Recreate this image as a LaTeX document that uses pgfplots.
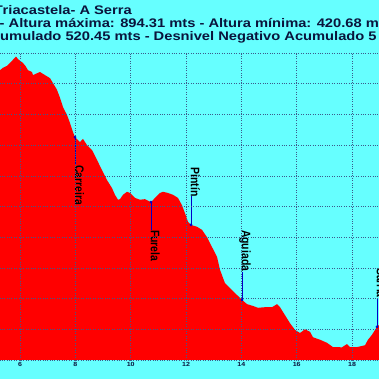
\documentclass[border=0pt]{standalone}
\usepackage{pgfplots}
\pgfplotsset{compat=1.18}
\usepackage{fontspec}
\setmainfont{Liberation Sans}
\definecolor{bgcyan}{RGB}{102,255,255}
\definecolor{navy}{RGB}{10,20,60}
\definecolor{gridc}{RGB}{60,90,140}
\definecolor{mk}{RGB}{0,0,200}
\begin{document}
\begin{tikzpicture}[x=1bp,y=1bp]
\useasboundingbox (0,0) rectangle (379,379);
\clip (0,0) rectangle (379,379);
\fill[bgcyan] (0,0) rectangle (379,379);
\begin{axis}[
  at={(-7.67bp,19bp)}, anchor=south west, scale only axis,
  width=401.2bp, height=307bp,
  xmin=5, xmax=19.5, ymin=400, ymax=900,
  axis line style={draw=none},
  major tick length=0pt,
  xtick={6,8,...,18}, xticklabels={6,8,10,12,14,16,18},
  ytick={400,450,...,900},
  grid=major,
  grid style={dotted, gridc, line width=0.5bp},
  axis on top,
  xticklabel style={font=\bfseries\fontsize{6}{7}\selectfont, navy, inner sep=0pt, yshift=-1.7bp, xscale=1.18},
  yticklabel style={font=\bfseries\fontsize{6}{7}\selectfont, navy},
  clip=true,
]
\addplot[fill=red, draw=none] coordinates {
(5.0,855) (5.277,872) (5.386,876) (5.530,879) (5.639,884) (5.747,889) (5.855,894.3) (5.928,890) (6.072,885) (6.181,880) (6.289,872) (6.434,869) (6.470,864) (6.614,867) (6.723,869) (6.831,866) (6.976,862) (7.084,859) (7.193,851) (7.337,840) (7.446,827) (7.554,812) (7.699,799) (7.807,786) (7.915,771) (7.988,763) (8.096,758) (8.168,755) (8.277,760) (8.421,750) (8.602,742) (8.783,726) (8.964,709) (9.144,693) (9.325,680) (9.433,669) (9.542,661) (9.614,662) (9.722,669) (9.867,674) (9.975,672) (10.156,664) (10.337,661) (10.518,662) (10.734,657) (10.879,664) (11.060,672) (11.168,674) (11.349,672) (11.530,669) (11.710,664) (11.855,652) (11.963,639) (12.072,625) (12.180,620) (12.397,617) (12.578,612) (12.758,600) (12.939,584) (13.120,568) (13.228,547) (13.409,525) (13.590,517) (13.770,509) (14.023,498) (14.204,491) (14.421,488) (14.601,485) (14.854,486) (15.107,486) (15.290,491) (15.397,486) (15.577,473) (15.758,460) (15.939,449) (16.119,444) (16.300,450) (16.481,446) (16.590,437) (16.843,433) (17.095,428) (17.312,421) (17.637,420.7) (17.818,426) (17.926,421) (18.179,421) (18.468,424) (18.577,433) (18.721,441) (18.902,454) (18.975,457) (19.2,470) (19.5,480)
} \closedcycle;
\addplot[only marks, mark=*, mark size=1.2bp, mk] coordinates {
(7.988,763) (10.734,657) (12.180,620) (14.023,498) (18.902,454)
};
\draw[mk, line width=0.5bp] (axis cs:7.988,763) -- (axis cs:7.988,717.6);
\draw[mk, line width=0.5bp] (axis cs:10.734,657) -- (axis cs:10.734,612);
\draw[mk, line width=0.5bp] (axis cs:12.180,620) -- (axis cs:12.180,667);
\draw[mk, line width=0.5bp] (axis cs:14.023,498) -- (axis cs:14.023,543);
\draw[mk, line width=0.5bp] (axis cs:18.902,454) -- (axis cs:18.902,499);
\tikzset{lbl/.style={rotate=-90, anchor=base west, inner sep=0pt, font=\bfseries\fontsize{10.5}{12}\selectfont, text=black}}
\node[lbl] at (axis cs:7.988,717.6) {\scalebox{1}[1.18]{Carreira}};
\node[lbl] at (axis cs:10.734,612) {\scalebox{1}[1.18]{Furela}};
\node[lbl] at (axis cs:12.180,714) {\scalebox{1}[1.18]{Pintín}};
\node[lbl] at (axis cs:14.023,612) {\scalebox{1}[1.18]{Aguiada}};
\node[lbl] at (axis cs:18.902,550) {\scalebox{1}[1.18]{Sarria}};
\end{axis}
\tikzset{ttl/.style={anchor=base west, inner sep=0pt, font=\bfseries\fontsize{12.5}{15}\selectfont, text=navy, xscale=1.18}}
\node[ttl] at (2.5,365) {\llap{T}riacastela- A Serra};
\node[ttl] at (-0.5,352) {- Altura máxima: 894.31 mts - Altura mínima: 420.68 mts};
\node[ttl] at (0,339) {\llap{Ac}umulado 520.45 mts - Desnivel Negativo Acumulado 5};
\end{tikzpicture}
\end{document}
